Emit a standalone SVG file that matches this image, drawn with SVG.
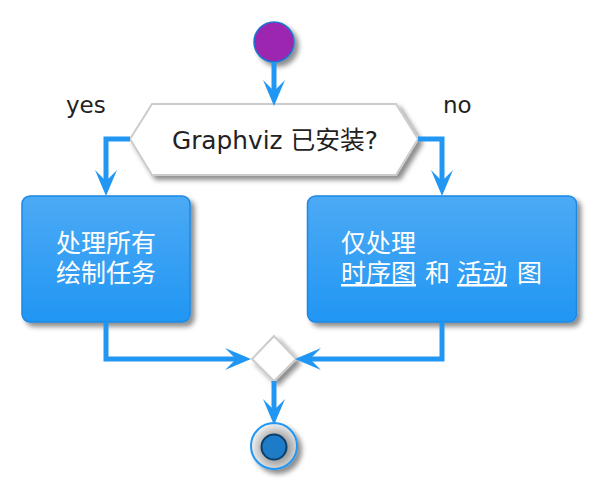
<svg xmlns="http://www.w3.org/2000/svg" width="608" height="504" viewBox="0 0 608 504">
<defs>
<style>
.lbl{font-family:"DejaVu Sans","Noto Sans CJK SC",sans-serif;font-size:23px;fill:#222222}
.dtxt{font-family:"DejaVu Sans","Noto Sans CJK SC",sans-serif;font-size:24.8px;fill:#222222}
.btxt{font-family:"DejaVu Sans","Noto Sans CJK SC",sans-serif;font-size:25px;fill:#ffffff}
.box{fill:url(#boxg);stroke:#1E88E5;stroke-width:1.5}
.gate{fill:#ffffff;stroke:#cccccc;stroke-width:2}
.conn{fill:none;stroke:#2196F3;stroke-width:5;marker-end:url(#ah)}
</style>
<linearGradient id="boxg" x1="0" y1="0" x2="0" y2="1">
<stop offset="0" stop-color="#4CAAF5"/>
<stop offset="1" stop-color="#2196F3"/>
</linearGradient>
<radialGradient id="endg" cx="0.55" cy="0.55" r="0.55">
<stop offset="0.35" stop-color="#8f8f8f"/>
<stop offset="0.75" stop-color="#cfcfcf"/>
<stop offset="1" stop-color="#f2f2f2"/>
</radialGradient>
<filter id="sh" x="-20%" y="-20%" width="150%" height="150%">
<feGaussianBlur in="SourceAlpha" stdDeviation="2.5"/>
<feOffset dx="4" dy="4" result="b"/>
<feFlood flood-color="#000000" flood-opacity="0.45"/>
<feComposite in2="b" operator="in" result="s"/>
<feMerge><feMergeNode in="s"/><feMergeNode in="SourceGraphic"/></feMerge>
</filter>
<marker id="ah" markerUnits="userSpaceOnUse" markerWidth="26" markerHeight="22" viewBox="0 0 26 22" refX="11" refY="11" orient="auto">
<path d="M0,0 L26,11 L0,22 L11,11 Z" fill="#2196F3"/>
</marker>
</defs>
<g id="start">
<circle cx="274" cy="42" r="20" fill="#9C27B0" stroke="#1976D2" stroke-width="1.5" filter="url(#sh)"/>
</g>
<g id="decision">
<polygon class="gate" points="130,139 152,104 396,104 418,139 396,175 152,175" filter="url(#sh)"/>
<text class="dtxt" x="275" y="149" text-anchor="middle">Graphviz 已安装?</text>
</g>
<g id="labels">
<text class="lbl" x="66" y="113">yes</text>
<text class="lbl" x="443" y="113">no</text>
</g>
<g id="all">
<rect class="box" x="22" y="196" width="168" height="126" rx="8" filter="url(#sh)"/>
<text class="btxt" x="106" y="252" text-anchor="middle">处理所有</text>
<text class="btxt" x="106" y="282" text-anchor="middle">绘制任务</text>
</g>
<g id="partial">
<rect class="box" x="307.5" y="196" width="269" height="126" rx="8" filter="url(#sh)"/>
<text class="btxt" x="341" y="252">仅处理</text>
<text class="btxt" y="282"><tspan x="341" text-decoration="underline">时序图</tspan><tspan x="425">和</tspan><tspan x="457" text-decoration="underline">活动</tspan><tspan x="517">图</tspan></text>
</g>
<g id="merge">
<polygon class="gate" points="274,336 296,359 274,381 252,359" filter="url(#sh)"/>
</g>
<g id="end">
<circle cx="274" cy="446" r="23" fill="url(#endg)" stroke="#2196F3" stroke-width="2" filter="url(#sh)"/>
<circle cx="274" cy="447" r="12.5" fill="#1E7BC8" stroke="#0D3F6B" stroke-width="2"/>
</g>
<g id="connectors">
<path class="conn" d="M274,62 V91"/>
<path class="conn" d="M130,139 H106 V181"/>
<path class="conn" d="M418,139 H442 V181"/>
<path class="conn" d="M106,322 V359 H236"/>
<path class="conn" d="M442,322 V359 H310"/>
<path class="conn" d="M274,381 V410"/>
</g>
</svg>
